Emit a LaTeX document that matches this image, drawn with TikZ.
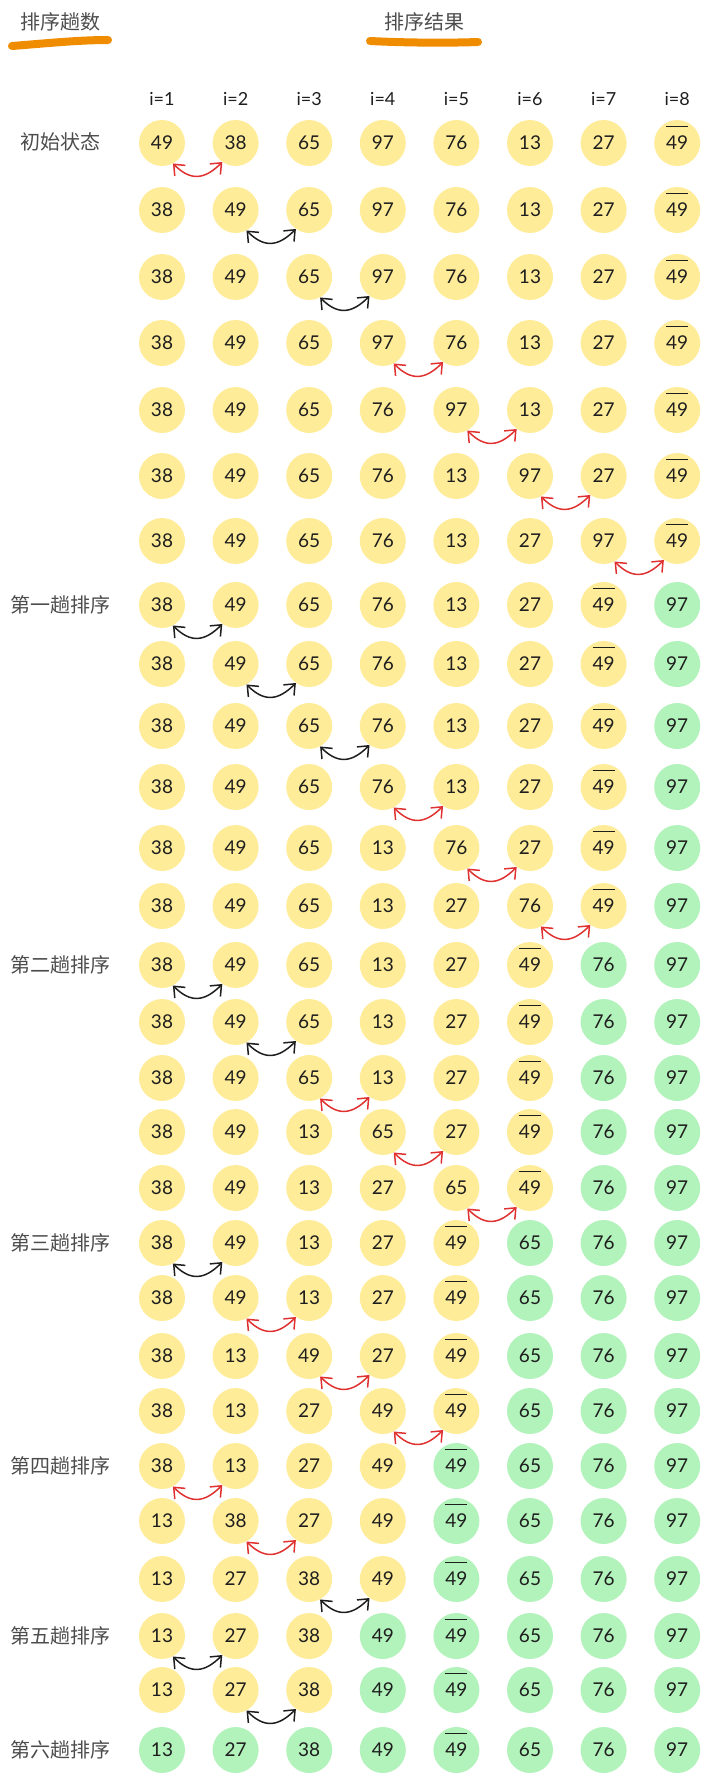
\documentclass[tikz,border=0pt]{standalone}
\usepackage{fontspec}
\usetikzlibrary{arrows.meta}
\setmainfont{Lato}
\newfontfamily\cjk{Noto Sans CJK SC}

\definecolor{ballyellow}{HTML}{FFEC99}
\definecolor{ballgreen}{HTML}{B2F2BB}
\definecolor{swapred}{HTML}{E03131}
\definecolor{inkblack}{HTML}{1E1E1E}
\definecolor{markorange}{HTML}{F08C00}

% number with a bar over it (second 49)
\newcommand{\dupe}[1]{\setbox0\hbox{#1}\rlap{\smash{\raisebox{1.2em}{\rule{\wd0}{1pt}}}}\box0}

\begin{document}
\begin{tikzpicture}[x=1pt,y=1pt,
  ball/.style={circle,fill=ballyellow,minimum size=46pt,inner sep=0pt,
    text=inkblack,font=\fontsize{19}{21}\selectfont},
  sorted/.style={ball,fill=ballgreen},
  passlabel/.style={font=\cjk\fontsize{20}{24}\selectfont,text=black!70},
  colhead/.style={text=inkblack,font=\fontsize{18}{20}\selectfont},
  swap/.style={{Straight Barb[length=9pt,width=15pt]}-{Straight Barb[length=9pt,width=15pt]},
    line width=1.5pt,looseness=1.3},
  swapr/.style={swap,draw=swapred},
  swapk/.style={swap,draw=inkblack}]

\useasboundingbox (0,0) rectangle (710,-1782);

% Headings
\node[passlabel] (headpass) at (60,-22) {排序趟数};
\node[passlabel] (headres) at (424,-22) {排序结果};
\draw[markorange,line width=8pt,line cap=round] (12,-46) .. controls (50,-43) and (80,-40) .. (108,-40);
\draw[markorange,line width=8pt,line cap=round] (370,-41) .. controls (410,-43) and (450,-43) .. (478,-42);

% Column index
\foreach \c in {1,...,8}
  \node[colhead] (idx\c) at ({162+73.6*(\c-1)},-99) {i=\c};

% Pass labels
\node[passlabel] (init) at (60,-142) {初始状态};
\node[passlabel] (pass1) at (60,-605) {第一趟排序};
\node[passlabel] (pass2) at (60,-965) {第二趟排序};
\node[passlabel] (pass3) at (60,-1243) {第三趟排序};
\node[passlabel] (pass4) at (60,-1466) {第四趟排序};
\node[passlabel] (pass5) at (60,-1636) {第五趟排序};
\node[passlabel] (pass6) at (60,-1750) {第六趟排序};

% Rows: index / y / number already sorted / values
\foreach \r/\y/\g/\vals in {
  1/143/0/{49,38,65,97,76,13,27,\dupe{49}},
  2/210/0/{38,49,65,97,76,13,27,\dupe{49}},
  3/277/0/{38,49,65,97,76,13,27,\dupe{49}},
  4/343/0/{38,49,65,97,76,13,27,\dupe{49}},
  5/410/0/{38,49,65,76,97,13,27,\dupe{49}},
  6/476/0/{38,49,65,76,13,97,27,\dupe{49}},
  7/541/0/{38,49,65,76,13,27,97,\dupe{49}},
  8/605/1/{38,49,65,76,13,27,\dupe{49},97},
  9/664/1/{38,49,65,76,13,27,\dupe{49},97},
  10/726/1/{38,49,65,76,13,27,\dupe{49},97},
  11/787/1/{38,49,65,76,13,27,\dupe{49},97},
  12/848/1/{38,49,65,13,76,27,\dupe{49},97},
  13/906/1/{38,49,65,13,27,76,\dupe{49},97},
  14/965/2/{38,49,65,13,27,\dupe{49},76,97},
  15/1022/2/{38,49,65,13,27,\dupe{49},76,97},
  16/1078/2/{38,49,65,13,27,\dupe{49},76,97},
  17/1132/2/{38,49,13,65,27,\dupe{49},76,97},
  18/1188/2/{38,49,13,27,65,\dupe{49},76,97},
  19/1243/3/{38,49,13,27,\dupe{49},65,76,97},
  20/1298/3/{38,49,13,27,\dupe{49},65,76,97},
  21/1356/3/{38,13,49,27,\dupe{49},65,76,97},
  22/1411/3/{38,13,27,49,\dupe{49},65,76,97},
  23/1466/4/{38,13,27,49,\dupe{49},65,76,97},
  24/1521/4/{13,38,27,49,\dupe{49},65,76,97},
  25/1579/4/{13,27,38,49,\dupe{49},65,76,97},
  26/1636/5/{13,27,38,49,\dupe{49},65,76,97},
  27/1690/5/{13,27,38,49,\dupe{49},65,76,97},
  28/1750/8/{13,27,38,49,\dupe{49},65,76,97}} {
  \foreach \v [count=\c] in \vals {
    \ifnum\c>\numexpr8-\g\relax \def\kind{sorted}\else\def\kind{ball}\fi
    \node[\kind] (n\r-\c) at ({162+73.6*(\c-1)},-\y) {\v};
  }
}

% Swaps: row / left column / colour
\foreach \r/\a/\sty in {1/1/swapr, 2/2/swapk, 3/3/swapk, 4/4/swapr, 5/5/swapr,
  6/6/swapr, 7/7/swapr, 8/1/swapk, 9/2/swapk, 10/3/swapk, 11/4/swapr,
  12/5/swapr, 13/6/swapr, 14/1/swapk, 15/2/swapk, 16/3/swapr, 17/4/swapr,
  18/5/swapr, 19/1/swapk, 20/2/swapr, 21/3/swapr, 22/4/swapr, 23/1/swapr,
  24/2/swapr, 25/3/swapk, 26/1/swapk, 27/2/swapk} {
  \pgfmathtruncatemacro\b{\a+1}
  \draw[\sty] (n\r-\a.-62) to[out=-45,in=-135] (n\r-\b.-125);
}

\end{tikzpicture}
\end{document}
